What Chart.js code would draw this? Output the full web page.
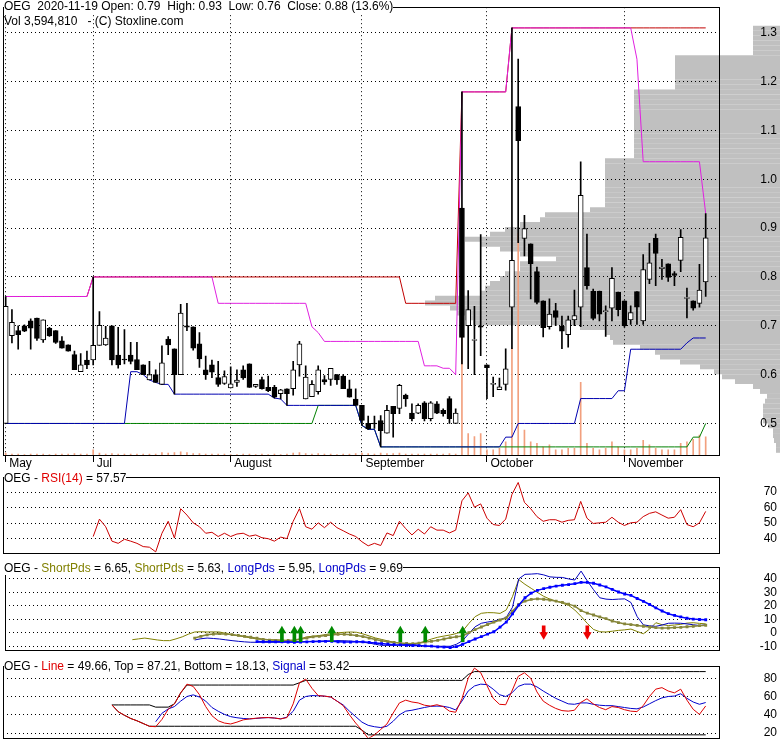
<!DOCTYPE html>
<html>
<head>
<meta charset="utf-8">
<script src="https://cdn.jsdelivr.net/npm/chart.js@4.4.1/dist/chart.umd.min.js"></script>
<style>
  body { margin: 0; background: #fff; }
  #wrap { position: relative; width: 780px; height: 745px; overflow: hidden;
          font-family: "Liberation Sans", Arial, sans-serif; font-size: 12px; }
  canvas { position: absolute; left: 0; }
  .ttl { position: absolute; left: 4px; white-space: pre; background: #fff; line-height: 14px; color: #000; }
  .rd { color: #e00000; }
  .ol { color: #808000; }
  .bl { color: #0000cc; }
</style>
</head>
<body>
<div id="wrap">
  <canvas id="profile" width="780" height="475" style="top:0"></canvas>
  <canvas id="price" width="780" height="475" style="top:0"></canvas>
  <canvas id="rsi" width="780" height="90" style="top:470px"></canvas>
  <canvas id="pds" width="780" height="97" style="top:560px"></canvas>
  <canvas id="osc" width="780" height="86" style="top:659px"></canvas>
  <div class="ttl" style="top:-1px">OEG  2020-11-19 Open: 0.79  High: 0.93  Low: 0.76  Close: 0.88 (13.6%)</div>
  <div class="ttl" style="top:14px;background:transparent">Vol 3,594,810   - (C) Stoxline.com</div>
  <div class="ttl" style="top:471px">OEG - <span class="rd">RSI(14)</span> = 57.57</div>
  <div class="ttl" style="top:561px">OEG - <span class="ol">ShortPds</span> = 6.65, <span class="ol">ShortPds</span> = 5.63, <span class="bl">LongPds</span> = 5.95, <span class="bl">LongPds</span> = 9.69</div>
  <div class="ttl" style="top:659px">OEG - <span class="rd">Line</span> = 49.66, Top = 87.21, Bottom = 18.13, <span class="bl">Signal</span> = 53.42</div>
</div>
<script>
// trading days 0..112, month labels sit on the first day of each month
const monthIdx = [0, 14, 36, 57, 77, 99];
const monthNames = ["May", "Jul", "August", "September", "October", "November"];

const opens = [0.50,0.68,0.69,0.70,0.71,0.716,0.671,0.695,0.69,0.669,
  0.661,0.641,0.606,0.63,0.63,0.66,0.661,0.70,0.64,0.631,
  0.64,0.631,0.62,0.589,0.60,0.58,0.673,0.653,0.60,0.70,
  0.698,0.663,0.61,0.62,0.594,0.582,0.573,0.584,0.61,0.622,
  0.576,0.59,0.574,0.574,0.561,0.571,0.571,0.62,0.55,0.555,
  0.565,0.59,0.59,0.60,0.597,0.571,0.55,0.537,0.50,0.50,
  0.506,0.48,0.535,0.531,0.558,0.521,0.521,0.542,0.51,0.54,
  0.527,0.551,0.50,0.941,0.70,0.67,0.70,0.62,0.58,0.569,
  0.58,0.738,1.149,0.879,0.868,0.811,0.751,0.698,0.731,0.70,
  0.682,0.712,0.738,0.819,0.771,0.771,0.729,0.736,0.769,0.751,
  0.712,0.77,0.71,0.795,0.879,0.817,0.827,0.807,0.834,0.756,
  0.751,0.746,0.79];
const highs = [0.76,0.733,0.70,0.702,0.714,0.716,0.712,0.697,0.69,0.678,
  0.661,0.648,0.643,0.648,0.80,0.729,0.699,0.70,0.697,0.692,
  0.666,0.666,0.62,0.627,0.61,0.659,0.678,0.653,0.744,0.746,
  0.698,0.686,0.638,0.63,0.627,0.608,0.616,0.61,0.618,0.622,
  0.58,0.595,0.597,0.578,0.57,0.571,0.627,0.668,0.618,0.588,
  0.618,0.598,0.613,0.60,0.60,0.589,0.571,0.537,0.515,0.515,
  0.516,0.537,0.535,0.58,0.56,0.54,0.54,0.545,0.545,0.545,
  0.53,0.555,0.53,1.179,0.772,0.74,0.887,0.62,0.595,0.593,
  0.653,1.31,1.246,0.926,0.868,0.82,0.751,0.755,0.746,0.72,
  0.72,0.773,1.036,0.888,0.775,0.771,0.741,0.819,0.769,0.751,
  0.741,0.77,0.846,0.869,0.888,0.836,0.827,0.811,0.897,0.777,
  0.751,0.826,0.93];
const lows = [0.50,0.665,0.652,0.688,0.652,0.67,0.666,0.678,0.664,0.654,
  0.648,0.61,0.606,0.612,0.62,0.66,0.66,0.62,0.613,0.622,
  0.622,0.61,0.60,0.589,0.584,0.58,0.641,0.56,0.60,0.69,
  0.65,0.615,0.59,0.594,0.576,0.58,0.573,0.576,0.59,0.574,
  0.574,0.57,0.565,0.552,0.55,0.537,0.558,0.597,0.55,0.555,
  0.56,0.58,0.578,0.58,0.571,0.554,0.537,0.496,0.488,0.49,
  0.452,0.48,0.472,0.52,0.535,0.505,0.52,0.505,0.505,0.52,
  0.515,0.50,0.50,0.622,0.612,0.60,0.639,0.551,0.555,0.569,
  0.568,0.653,0.87,0.843,0.755,0.745,0.677,0.693,0.70,0.653,
  0.656,0.70,0.698,0.775,0.712,0.71,0.678,0.71,0.72,0.697,
  0.703,0.703,0.703,0.786,0.782,0.795,0.791,0.782,0.811,0.716,
  0.732,0.738,0.76];
const closes = [0.74,0.707,0.682,0.689,0.695,0.674,0.712,0.679,0.666,0.654,
  0.648,0.61,0.62,0.62,0.66,0.701,0.675,0.63,0.62,0.63,
  0.627,0.61,0.60,0.60,0.584,0.624,0.661,0.60,0.726,0.697,
  0.654,0.632,0.60,0.605,0.58,0.596,0.581,0.589,0.593,0.574,
  0.58,0.571,0.567,0.554,0.569,0.561,0.61,0.663,0.595,0.58,
  0.61,0.585,0.613,0.589,0.571,0.554,0.537,0.506,0.489,0.499,
  0.485,0.527,0.52,0.578,0.55,0.51,0.537,0.51,0.542,0.521,
  0.52,0.51,0.521,0.676,0.733,0.671,0.697,0.614,0.581,0.575,
  0.612,0.834,1.079,0.899,0.827,0.748,0.696,0.724,0.717,0.689,
  0.712,0.721,0.967,0.782,0.715,0.724,0.73,0.797,0.733,0.70,
  0.727,0.738,0.815,0.829,0.848,0.82,0.799,0.803,0.881,0.757,
  0.736,0.773,0.88];
// volume in millions of shares
const volume = [0.4,0.2,0.2,0.1,0.2,0.2,0.2,0.1,0.2,0.2,
  0.2,0.3,0.2,0.2,1.0,0.4,0.2,0.3,0.2,0.2,
  0.2,0.2,0.2,0.2,0.2,0.5,0.4,0.5,0.6,0.5,
  0.3,0.3,0.2,0.2,0.2,0.2,0.1,0.1,0.2,0.2,
  0.1,0.2,0.1,0.2,0.1,0.2,0.4,0.5,0.3,0.2,
  0.3,0.2,0.2,0.1,0.2,0.2,0.3,0.4,0.3,0.2,
  0.4,0.3,0.3,0.4,0.2,0.2,0.2,0.2,0.2,0.2,
  0.2,0.3,0.2,25,4.2,3.6,4.2,1.0,1.0,1.3,
  2.6,21,43.5,4.9,2.6,2.3,1.6,2.0,1.0,1.0,
  1.3,1.3,14.3,2.3,1.3,1.0,1.3,2.6,1.6,1.0,
  1.0,1.3,2.9,2.0,1.3,1.0,1.0,1.0,2.3,2.6,
  3.1,3.9,3.59];

// price channel lines
const highShort = [0.76,0.76,0.76,0.76,0.76,0.76,0.76,0.76,0.76,0.76,
  0.76,0.76,0.76,0.76,0.80,0.80,0.80,0.80,0.80,0.80,
  0.80,0.80,0.80,0.80,0.80,0.80,0.80,0.80,0.80,0.80,
  0.80,0.80,0.80,0.80,0.746,0.746,0.746,0.746,0.746,0.746,
  0.746,0.746,0.746,0.746,0.746,0.746,0.746,0.746,0.746,0.698,
  0.686,0.668,0.668,0.668,0.668,0.668,0.668,0.668,0.668,0.668,
  0.668,0.668,0.668,0.668,0.668,0.668,0.668,0.618,0.618,0.618,
  0.613,0.613,0.60,1.179,1.179,1.179,1.179,1.179,1.179,1.179,
  1.179,1.31,1.31,1.31,1.31,1.31,1.31,1.31,1.31,1.31,
  1.31,1.31,1.31,1.31,1.31,1.31,1.31,1.31,1.31,1.31,
  1.31,1.246,1.036,1.036,1.036,1.036,1.036,1.036,1.036,1.036,
  1.036,1.036,0.93];
const highLong = [0.76,0.76,0.76,0.76,0.76,0.76,0.76,0.76,0.76,0.76,
  0.76,0.76,0.76,0.76,0.80,0.80,0.80,0.80,0.80,0.80,
  0.80,0.80,0.80,0.80,0.80,0.80,0.80,0.80,0.80,0.80,
  0.80,0.80,0.80,0.80,0.80,0.80,0.80,0.80,0.80,0.80,
  0.80,0.80,0.80,0.80,0.80,0.80,0.80,0.80,0.80,0.80,
  0.80,0.80,0.80,0.80,0.80,0.80,0.80,0.80,0.80,0.80,
  0.80,0.80,0.80,0.80,0.746,0.746,0.746,0.746,0.746,0.746,
  0.746,0.746,0.746,1.179,1.179,1.179,1.179,1.179,1.179,1.179,
  1.179,1.31,1.31,1.31,1.31,1.31,1.31,1.31,1.31,1.31,
  1.31,1.31,1.31,1.31,1.31,1.31,1.31,1.31,1.31,1.31,
  1.31,1.31,1.31,1.31,1.31,1.31,1.31,1.31,1.31,1.31,
  1.31,1.31,1.31];
const lowShort = [0.50,0.50,0.50,0.50,0.50,0.50,0.50,0.50,0.50,0.50,
  0.50,0.50,0.50,0.50,0.50,0.50,0.50,0.50,0.50,0.50,
  0.606,0.606,0.60,0.589,0.584,0.58,0.58,0.56,0.56,0.56,
  0.56,0.56,0.56,0.56,0.56,0.56,0.56,0.56,0.56,0.56,
  0.56,0.56,0.56,0.552,0.55,0.537,0.537,0.537,0.537,0.537,
  0.537,0.537,0.537,0.537,0.537,0.537,0.537,0.496,0.488,0.488,
  0.452,0.452,0.452,0.452,0.452,0.452,0.452,0.452,0.452,0.452,
  0.452,0.452,0.452,0.452,0.452,0.452,0.452,0.452,0.452,0.452,
  0.472,0.472,0.50,0.50,0.50,0.50,0.50,0.50,0.50,0.50,
  0.50,0.50,0.551,0.551,0.551,0.551,0.551,0.551,0.567,0.567,
  0.652,0.652,0.652,0.652,0.652,0.652,0.652,0.652,0.652,0.665,
  0.675,0.675,0.675];
const lowLong = [0.50,0.50,0.50,0.50,0.50,0.50,0.50,0.50,0.50,0.50,
  0.50,0.50,0.50,0.50,0.50,0.50,0.50,0.50,0.50,0.50,
  0.50,0.50,0.50,0.50,0.50,0.50,0.50,0.50,0.50,0.50,
  0.50,0.50,0.50,0.50,0.50,0.50,0.50,0.50,0.50,0.50,
  0.50,0.50,0.50,0.50,0.50,0.50,0.50,0.50,0.50,0.50,
  0.537,0.537,0.537,0.537,0.537,0.537,0.537,0.496,0.488,0.488,
  0.452,0.452,0.452,0.452,0.452,0.452,0.452,0.452,0.452,0.452,
  0.452,0.452,0.452,0.452,0.452,0.452,0.452,0.452,0.452,0.452,
  0.452,0.452,0.452,0.452,0.452,0.452,0.452,0.452,0.452,0.452,
  0.452,0.452,0.452,0.452,0.452,0.452,0.452,0.452,0.452,0.452,
  0.452,0.452,0.452,0.452,0.452,0.452,0.452,0.452,0.452,0.452,
  0.472,0.472,0.50];

// volume-at-price profile (price bin centres, relative volume)
const profPrice = [0.445,0.455,0.465,0.475,0.485,0.495,0.505,0.515,0.525,0.535,
  0.545,0.555,0.565,0.575,0.585,0.595,0.605,0.615,0.625,0.635,
  0.645,0.655,0.665,0.675,0.685,0.695,0.705,0.715,0.725,0.735,
  0.745,0.755,0.765,0.775,0.785,0.795,0.805,0.815,0.825,0.835,
  0.845,0.855,0.865,0.875,0.885,0.895,0.905,0.915,0.925,0.935,
  0.945,0.955,0.965,0.975,0.985,0.995,1.005,1.015,1.025,1.035,
  1.045,1.055,1.065,1.075,1.085,1.095,1.105,1.115,1.125,1.135,
  1.145,1.155,1.165,1.175,1.185,1.195,1.205,1.215,1.225,1.235,
  1.245,1.255,1.265,1.275,1.285,1.295,1.305];
const profVol = [4,4,6,7,7,12,17,17,17,17,
  15,13,20,27,45,58,66,80,100,120,
  125,140,167,170,175,200,307,315,323,330,
  355,345,300,295,290,280,275,260,260,224,
  260,280,300,315,290,275,260,240,235,190,
  175,175,175,175,175,175,175,175,175,175,
  146,146,146,146,146,146,146,146,146,146,
  146,146,146,146,105,105,105,105,105,105,
  105,27,27,27,27,27,27];

// RSI(14), starts at day 14
const rsiStart = 14;
const rsi = [41.4,52.6,47.7,38.4,37.0,39.6,38.4,37.0,34.9,34.5,
  31.5,43.5,51.2,40.4,59.3,55.2,50.2,47.7,43.5,44.1,
  41.4,43.5,41.4,43.0,43.5,41.6,42.4,40.6,40.0,38.4,
  41.0,40.0,51.2,59.3,47.7,46.1,50.2,47.1,50.6,47.1,
  45.1,43.0,41.4,38.0,35.4,37.0,35.6,43.7,42.0,51.2,
  46.5,42.4,46.1,43.0,47.7,45.5,45.5,43.7,45.5,64.4,
  69.5,60.3,62.4,53.2,49.1,48.5,52.6,68.5,76.2,63.4,
  59.3,54.2,51.2,52.2,52.2,50.6,51.8,52.2,64.0,53.2,
  49.8,50.2,50.6,53.8,50.6,48.5,50.2,50.6,54.2,56.3,
  57.3,55.2,53.2,53.8,58.7,49.1,47.7,50.2,57.57];

// ShortPds / LongPds
const shortFastStart = 20;
const shortFast = [-5.1,-4.5,-3.9,-4.6,-5.3,-5.8,-5.8,-4.5,-3.0,-1.0,
  0.6,0.8,0.6,0.7,0.6,-0.4,-1.5,-2.2,-3.0,-3.8,
  -4.6,-4.9,-5.1,-5.2,-5.3,-5.6,-5.8,-4.4,-3.0,-2.5,
  -2.0,-1.3,-0.6,0.0,0.4,0.6,0.4,-0.8,-2.3,-3.8,
  -4.9,-6.0,-7.0,-7.7,-8.3,-8.6,-7.5,-6.2,-4.6,-3.3,
  -2.4,-1.6,-0.5,1.3,7.0,12.0,14.5,15.0,14.9,14.4,
  17.0,27.0,39.5,36.0,33.0,30.0,27.1,25.0,23.6,22.0,
  20.4,16.9,12.2,7.0,2.5,0.8,0.6,1.2,1.8,2.2,
  2.8,1.0,-0.7,2.8,7.5,6.0,5.4,5.8,6.3,7.2,
  7.5,7.0,6.65];
const shortSlowStart = 30;
const shortSlow = [-3.9,-2.6,-1.5,-0.9,-0.6,-0.9,-1.3,-1.9,-2.6,-3.3,
  -4.0,-4.8,-5.4,-5.6,-5.8,-5.7,-5.3,-4.6,-3.9,-3.0,
  -2.6,-2.0,-1.6,-1.1,-1.1,-1.4,-2.0,-2.8,-3.9,-5.0,
  -5.9,-6.7,-7.2,-7.6,-7.9,-8.1,-7.6,-6.9,-6.3,-5.6,
  -4.6,-3.6,-2.9,-2.3,0.2,2.4,4.3,6.2,7.9,9.5,
  11.0,16.0,21.1,23.5,24.8,25.2,24.9,24.3,23.5,22.6,
  21.3,19.8,16.5,14.6,13.2,11.8,10.5,8.8,7.6,6.6,
  6.1,5.5,4.9,4.3,3.8,3.5,3.6,3.9,4.1,4.5,
  4.9,5.3,5.63];
const longFastStart = 30;
const longFast = [-5.3,-4.4,-3.9,-4.2,-4.6,-5.2,-5.8,-6.3,-6.7,-7.0,
  -7.0,-7.0,-7.0,-7.0,-7.0,-6.8,-6.6,-6.5,-6.5,-6.4,
  -6.2,-6.1,-6.0,-5.8,-5.9,-6.1,-6.5,-7.0,-7.6,-8.5,
  -9.3,-9.3,-9.3,-9.0,-8.7,-8.6,-9.3,-10.0,-10.0,-10.0,
  -10.0,-10.0,-8.5,-5.8,-0.5,4.5,7.1,8.0,8.7,9.8,
  11.5,19.0,40.0,43.4,43.6,43.9,43.0,41.5,41.2,41.1,
  40.0,39.2,45.8,38.5,32.0,26.0,25.0,24.7,25.0,25.2,
  22.5,12.0,5.9,5.2,4.8,5.8,7.1,7.2,7.1,6.6,
  6.0,5.4,5.95];
const longSlowStart = 40;
const longSlow = [-6.5,-6.6,-6.6,-6.7,-6.7,-6.8,-7.0,-6.9,-6.7,-6.5,
  -6.4,-6.3,-6.3,-6.6,-6.9,-6.9,-6.6,-6.7,-7.1,-7.5,
  -8.0,-8.4,-8.8,-9.0,-9.2,-9.4,-9.5,-9.7,-9.9,-10.4,
  -10.6,-10.9,-10.3,-8.5,-6.5,-4.6,-2.8,-1.0,0.8,4.2,
  8.0,14.0,20.5,26.0,29.5,31.5,32.8,33.8,34.7,35.3,
  35.8,36.5,37.5,37.4,36.8,35.5,34.1,32.2,30.3,28.8,
  27.8,25.5,23.4,21.0,18.5,16.2,14.2,12.9,11.8,10.8,
  10.2,9.9,9.69];
const buyDays = [44, 46, 47, 52, 63, 67, 73];
const sellDays = [86, 93];

// Line / Top / Bottom / Signal, starts at day 17 (signal at day 24)
const oscStart = 17;
const oscLine = [50.8,43.4,39.5,36.0,33.5,30.5,27.5,27.0,35.0,46.0,
  52.0,64.0,73.5,71.0,62.0,49.0,39.0,33.5,31.0,30.0,
  32.0,34.5,35.5,36.3,36.8,37.0,36.5,35.5,37.0,52.0,
  75.0,79.0,69.0,61.0,60.4,59.5,55.0,50.0,40.0,31.0,
  23.3,14.1,18.0,24.0,30.0,42.0,53.0,56.0,54.0,53.0,
  50.5,49.5,51.0,49.0,44.0,42.8,57.5,80.0,91.0,86.0,
  72.0,58.0,51.5,51.0,66.0,82.0,85.9,80.0,65.0,55.0,
  50.5,47.0,44.6,44.0,45.0,53.5,57.5,52.0,48.0,45.6,
  49.0,48.0,45.6,44.0,43.5,50.0,60.0,68.0,69.7,66.0,
  64.0,68.0,56.0,46.0,40.5,49.66];
const oscTop = [50.8,50.8,50.8,50.8,50.8,50.8,50.8,48.4,48.4,48.4,
  52.0,64.0,72.5,72.5,72.5,72.5,72.5,72.5,72.5,72.5,
  72.5,72.5,72.5,72.5,72.5,72.5,72.5,72.5,72.5,72.5,
  75.0,77.6,77.6,77.6,77.6,77.6,77.6,77.6,77.6,77.6,
  77.6,77.6,77.6,77.6,77.6,77.6,77.6,77.6,77.6,77.6,
  77.6,77.6,77.6,77.6,77.6,77.6,77.6,84.0,87.21,87.21,
  87.21,87.21,87.21,87.21,87.21,87.21,87.21,87.21,87.21,87.21,
  87.21,87.21,87.21,87.21,87.21,87.21,87.21,87.21,87.21,87.21,
  87.21,87.21,87.21,87.21,87.21,87.21,87.21,87.21,87.21,87.21,
  87.21,87.21,87.21,87.21,87.21,87.21];
const oscBottom = [50.8,43.4,39.5,36.0,33.5,30.5,27.5,27.5,27.5,27.5,
  27.5,27.5,27.5,27.5,27.5,27.5,27.5,27.5,27.5,27.5,
  27.5,27.5,27.5,27.5,27.5,27.5,27.5,27.5,27.5,27.5,
  27.5,27.5,27.5,27.5,27.5,27.5,27.5,27.5,27.5,27.5,
  23.3,18.13,18.13,18.13,18.13,18.13,18.13,18.13,18.13,18.13,
  18.13,18.13,18.13,18.13,18.13,18.13,18.13,18.13,18.13,18.13,
  18.13,18.13,18.13,18.13,18.13,18.13,18.13,18.13,18.13,18.13,
  18.13,18.13,18.13,18.13,18.13,18.13,18.13,18.13,18.13,18.13,
  18.13,18.13,18.13,18.13,18.13,18.13,18.13,18.13,18.13,18.13,
  18.13,18.13,18.13,18.13,18.13,18.13];
const signalStart = 24;
const oscSignal = [32.4,41.7,46.4,49.0,55.0,60.0,61.8,59.4,55.0,48.0,
  43.9,40.5,38.0,36.8,36.0,35.6,36.0,36.6,37.0,36.5,
  35.6,37.5,43.9,56.0,60.0,61.0,60.8,60.4,59.4,55.0,
  50.8,44.0,38.0,32.0,28.5,27.0,26.1,27.5,33.0,40.0,
  44.0,45.0,46.5,48.0,49.3,49.5,49.3,48.0,45.3,55.0,
  66.0,71.5,73.5,73.0,68.0,62.0,60.0,64.0,71.0,73.5,
  73.5,70.5,66.0,62.0,58.0,55.0,52.0,51.5,53.0,53.0,
  51.5,50.5,50.0,50.0,49.0,48.0,47.0,46.5,48.5,52.0,
  55.5,58.5,60.0,60.5,63.0,58.0,54.0,51.5,53.42];

const priceTicks = [0.5, 0.6, 0.7, 0.8, 0.9, 1.0, 1.1, 1.2, 1.3];

Chart.defaults.font.family = '"Liberation Sans", Arial, sans-serif';
Chart.defaults.font.size = 12;
Chart.defaults.color = '#000';

const X_MIN = -0.43, X_MAX = 114.13;
const P_MIN = 0.4354, P_MAX = 1.3524;
const DOTS = [1, 3];

function pts(arr, start) {
  return arr.map((v, i) => ({ x: i + (start || 0), y: v }));
}

// plain black box round the plot area
const framePlugin = {
  id: 'frame',
  afterDraw(chart) {
    const a = chart.chartArea;
    const ctx = chart.ctx;
    ctx.save();
    ctx.strokeStyle = '#000';
    ctx.lineWidth = 1;
    ctx.strokeRect(Math.round(a.left) + 0.5, Math.round(a.top) + 0.5,
      Math.round(a.right - a.left), Math.round(a.bottom - a.top));
    ctx.restore();
  }
};

function rightAxis(min, max, ticks, fmt) {
  return {
    type: 'linear', position: 'right', min: min, max: max,
    afterBuildTicks: s => { s.ticks = ticks.map(v => ({ value: v })); },
    afterFit: s => { s.width = 58; },
    grid: { color: '#000', lineWidth: 1, drawTicks: false },
    border: { display: false, dash: DOTS },
    ticks: { autoSkip: false, crossAlign: 'far', padding: 0, color: '#000', callback: fmt }
  };
}

const hiddenX = { type: 'linear', min: X_MIN, max: X_MAX, display: false, offset: false, grid: { offset: false } };

function lineSet(data, color, width, order) {
  return { type: 'line', data: data, borderColor: color, backgroundColor: color,
    borderWidth: width, pointRadius: 0, tension: 0, order: order };
}

// volume profile, drawn behind the price panel
new Chart(document.getElementById('profile'), {
  type: 'bar',
  data: {
    datasets: [{
      data: profPrice.map((p, i) => ({ x: profVol[i], y: p })),
      backgroundColor: '#c0c0c0', borderWidth: 0, barThickness: 5, inflateAmount: 0
    }]
  },
  options: {
    indexAxis: 'y', responsive: false, animation: false, devicePixelRatio: 1,
    layout: { padding: { top: 5, bottom: 20, left: 0, right: 0 } },
    plugins: { legend: { display: false }, tooltip: { enabled: false } },
    scales: {
      x: { type: 'linear', display: false, reverse: true, min: 0, max: 780 },
      y: { type: 'linear', display: false, min: P_MIN, max: P_MAX, offset: false, grid: { offset: false } }
    }
  }
});

// price panel
const bodies = opens.map((o, i) => {
  const lo = Math.min(o, closes[i]);
  const hi = Math.max(o, closes[i]);
  return { x: i, y: [lo, Math.max(hi, lo + 0.002)] };
});

new Chart(document.getElementById('price'), {
  type: 'bar',
  data: {
    datasets: [
      { type: 'bar', data: bodies, backgroundColor: closes.map((c, i) => c > opens[i] ? '#fff' : '#000'),
        borderColor: '#000', borderWidth: 1, borderSkipped: false, barThickness: 5, grouped: false, order: 1 },
      { type: 'bar', data: highs.map((h, i) => ({ x: i, y: [lows[i], h] })), backgroundColor: '#000',
        borderWidth: 0, barThickness: 1, grouped: false, order: 2 },
      lineSet(pts(highShort), '#e020e0', 1, 3),
      lineSet(pts(highLong), '#c00000', 1, 4),
      lineSet(pts(lowShort), '#0000b0', 1, 5),
      lineSet(pts(lowLong), '#008000', 1, 6),
      { type: 'bar', data: pts(volume), yAxisID: 'yv', backgroundColor: '#f2a07e',
        borderWidth: 0, barThickness: 1, grouped: false, order: 7 }
    ]
  },
  options: {
    responsive: false, animation: false, devicePixelRatio: 1,
    layout: { padding: { left: 3, top: 5, right: 3, bottom: 0 } },
    plugins: { legend: { display: false }, tooltip: { enabled: false } },
    scales: {
      x: {
        type: 'linear', min: X_MIN, max: X_MAX, offset: false,
        afterBuildTicks: s => { s.ticks = monthIdx.map(v => ({ value: v })); },
        afterFit: s => { s.height = 20; },
        grid: { offset: false, color: '#000', lineWidth: 1, drawTicks: true, tickLength: 7, tickColor: '#000' },
        border: { display: false, dash: DOTS },
        ticks: { autoSkip: false, maxRotation: 0, align: 'start', labelOffset: 3.5, padding: -6,
          callback: (v, i) => monthNames[i] }
      },
      y: rightAxis(P_MIN, P_MAX, priceTicks, v => v.toFixed(1)),
      yv: { type: 'linear', display: false, min: 0, max: 88 }
    }
  },
  plugins: [framePlugin]
});

// RSI panel
new Chart(document.getElementById('rsi'), {
  type: 'line',
  data: { datasets: [lineSet(pts(rsi, rsiStart), '#cc0000', 1, 1)] },
  options: {
    responsive: false, animation: false, devicePixelRatio: 1,
    layout: { padding: { left: 3, top: 5, right: 3, bottom: 5 } },
    plugins: { legend: { display: false }, tooltip: { enabled: false } },
    scales: { x: hiddenX, y: rightAxis(30.9, 79.6, [40, 50, 60, 70], v => String(v)) }
  },
  plugins: [framePlugin]
});

// ShortPds / LongPds panel
new Chart(document.getElementById('pds'), {
  type: 'line',
  data: {
    datasets: [
      { type: 'bar', data: buyDays.map(d => ({ x: d, y: [-6.6, 0.5] })), backgroundColor: '#008a00',
        borderWidth: 0, barThickness: 3, grouped: false, order: 1 },
      { type: 'line', showLine: false, data: buyDays.map(d => ({ x: d, y: 1.6 })), pointStyle: 'triangle',
        pointRadius: 5, pointBorderWidth: 0, pointBackgroundColor: '#008a00', borderColor: '#008a00', order: 1 },
      { type: 'bar', data: sellDays.map(d => ({ x: d, y: [-0.5, 5.1] })), backgroundColor: '#ee0000',
        borderWidth: 0, barThickness: 3, grouped: false, order: 1 },
      { type: 'line', showLine: false, data: sellDays.map(d => ({ x: d, y: -1.4 })), pointStyle: 'triangle',
        rotation: 180, pointRadius: 5, pointBorderWidth: 0, pointBackgroundColor: '#ee0000', borderColor: '#ee0000', order: 1 },
      lineSet(pts(shortFast, shortFastStart), '#808000', 1, 5),
      lineSet(pts(longFast, longFastStart), '#0000c0', 1, 4),
      Object.assign(lineSet(pts(shortSlow, shortSlowStart), '#86863a', 1.5, 3),
        { pointStyle: 'rect', pointRadius: 2, pointBorderWidth: 0, pointBackgroundColor: '#86863a' }),
      Object.assign(lineSet(pts(longSlow, longSlowStart), '#0000ff', 1.5, 2),
        { pointStyle: 'rect', pointRadius: 2, pointBorderWidth: 0, pointBackgroundColor: '#0000ff' })
    ]
  },
  options: {
    responsive: false, animation: false, devicePixelRatio: 1,
    layout: { padding: { left: 3, top: 5, right: 3, bottom: 5 } },
    plugins: { legend: { display: false }, tooltip: { enabled: false } },
    scales: { x: hiddenX, y: rightAxis(-12.6, 48.7, [-10, 0, 10, 20, 30, 40], v => String(v)) }
  },
  plugins: [framePlugin]
});

// Line / Top / Bottom / Signal panel
new Chart(document.getElementById('osc'), {
  type: 'line',
  data: {
    datasets: [
      lineSet(pts(oscTop, oscStart), '#000', 1, 4),
      lineSet(pts(oscBottom, oscStart), '#000', 1, 4),
      lineSet(pts(oscSignal, signalStart), '#0000cc', 1, 2),
      lineSet(pts(oscLine, oscStart), '#dd0000', 1, 1)
    ]
  },
  options: {
    responsive: false, animation: false, devicePixelRatio: 1,
    layout: { padding: { left: 3, top: 5, right: 3, bottom: 5 } },
    plugins: { legend: { display: false }, tooltip: { enabled: false } },
    scales: { x: hiddenX, y: rightAxis(14.9, 93.1, [20, 40, 60, 80], v => String(v)) }
  },
  plugins: [framePlugin]
});
</script>
</body>
</html>
